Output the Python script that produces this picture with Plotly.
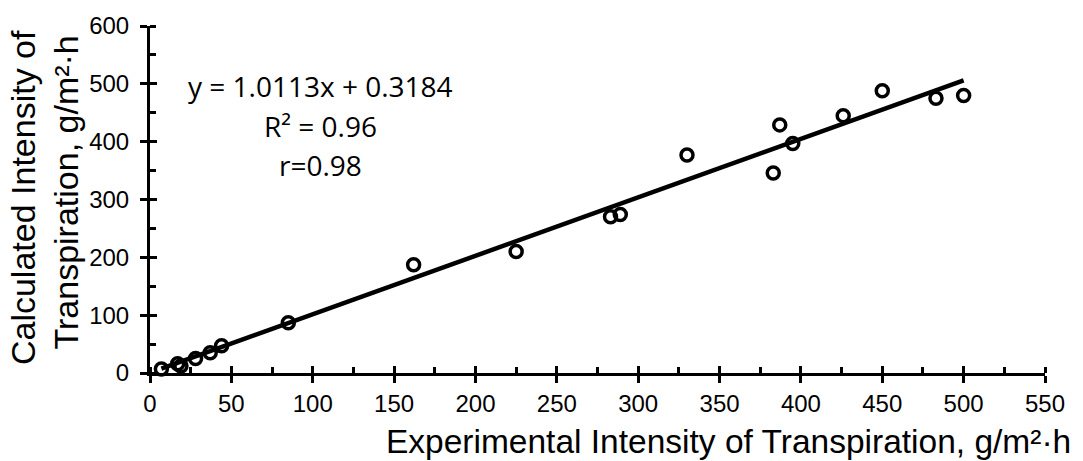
import plotly.graph_objects as go

# Data
experimental = [7, 17, 19, 28, 37, 44, 85, 162, 225, 283, 289, 330, 383, 387, 395, 426, 450, 483, 500]
calculated = [7, 16, 12, 25, 35, 47, 87, 187, 210, 270, 274, 377, 346, 429, 397, 445, 488, 475, 480]

slope = 1.0113
intercept = 0.3184
eq_lines = ["y = 1.0113x + 0.3184", "R² = 0.96", "r=0.98"]
x_title = "Experimental Intensity of Transpiration, g/m²·h"
y_title_lines = ["Calculated Intensity of", "Transpiration, g/m²·h"]

x_ticks = list(range(0, 551, 50))
y_ticks = list(range(0, 601, 100))

FONT = "Liberation Sans, Arial, sans-serif"

x_min, x_max = min(experimental), max(experimental)
trend_x = [x_min, x_max]
trend_y = [slope * v + intercept for v in trend_x]

fig = go.Figure()
fig.add_trace(go.Scatter(
    x=trend_x, y=trend_y, mode="lines",
    line=dict(color="black", width=4.5),
    cliponaxis=False, showlegend=False, hoverinfo="skip",
))
fig.add_trace(go.Scatter(
    x=experimental, y=calculated, mode="markers",
    marker=dict(symbol="circle-open", size=12, color="black", line=dict(width=3.5, color="black")),
    cliponaxis=False, showlegend=False,
))
# invisible trace on overlay axes (for inside half of the major ticks)
fig.add_trace(go.Scatter(x=[None], y=[None], xaxis="x2", yaxis="y2", showlegend=False, hoverinfo="skip"))

axis_common = dict(showgrid=False, zeroline=False)

fig.update_layout(
    width=1083, height=461,
    margin=dict(l=150, r=38, t=22, b=88),
    paper_bgcolor="white", plot_bgcolor="white",
    font=dict(family=FONT, color="black", size=24),
    xaxis=dict(
        range=[0, 550], tickvals=x_ticks, ticks="outside", ticklen=7, tickwidth=3, tickcolor="black",
        showline=True, linewidth=3, linecolor="black",
        minor=dict(dtick=25, ticks="inside", ticklen=6, tickwidth=3, tickcolor="black"),
        tickfont=dict(size=24, family=FONT, color="black"),
        ticklabelstandoff=0,
        **axis_common,
    ),
    yaxis=dict(
        range=[0, 600], tickvals=y_ticks, ticks="outside", ticklen=7, tickwidth=3, tickcolor="black",
        showline=True, linewidth=3, linecolor="black",
        minor=dict(dtick=50, ticks="inside", ticklen=6, tickwidth=3, tickcolor="black"),
        tickfont=dict(size=24, family=FONT, color="black"),
        ticklabelstandoff=6,
        **axis_common,
    ),
    xaxis2=dict(
        range=[0, 550], tickvals=x_ticks, overlaying="x", anchor="y2", side="bottom",
        ticks="inside", ticklen=7, tickwidth=3, tickcolor="black",
        showticklabels=False, showline=False, **axis_common,
    ),
    yaxis2=dict(
        range=[0, 600], tickvals=y_ticks, overlaying="y", anchor="x2", side="left",
        ticks="inside", ticklen=7, tickwidth=3, tickcolor="black",
        showticklabels=False, showline=False, **axis_common,
    ),
)

# equation annotations
eq_y = [0.826, 0.712, 0.598]
for txt, yy in zip(eq_lines, eq_y):
    fig.add_annotation(
        text=txt, xref="paper", yref="paper", x=0.191, y=yy,
        xanchor="center", yanchor="middle", showarrow=False,
        font=dict(family="Open Sans, sans-serif", size=28, color="black"),
    )

# axis titles
fig.add_annotation(
    text=x_title, xref="paper", yref="paper", x=1.0313, y=-0.1966,
    xanchor="right", yanchor="middle", showarrow=False,
    font=dict(family=FONT, size=33.5, color="black"),
)
for txt, xx, yy in zip(y_title_lines, [-0.1419, -0.0939], [0.507, 0.52]):
    fig.add_annotation(
        text=txt, xref="paper", yref="paper", x=xx, y=yy,
        xanchor="center", yanchor="middle", showarrow=False, textangle=-90,
        font=dict(family=FONT, size=34, color="black"),
    )

fig.write_html(
    "out.html",
    config={"displayModeBar": False},
    post_script="document.body.style.margin='0';document.body.style.padding='0';document.body.style.overflow='hidden';",
)
